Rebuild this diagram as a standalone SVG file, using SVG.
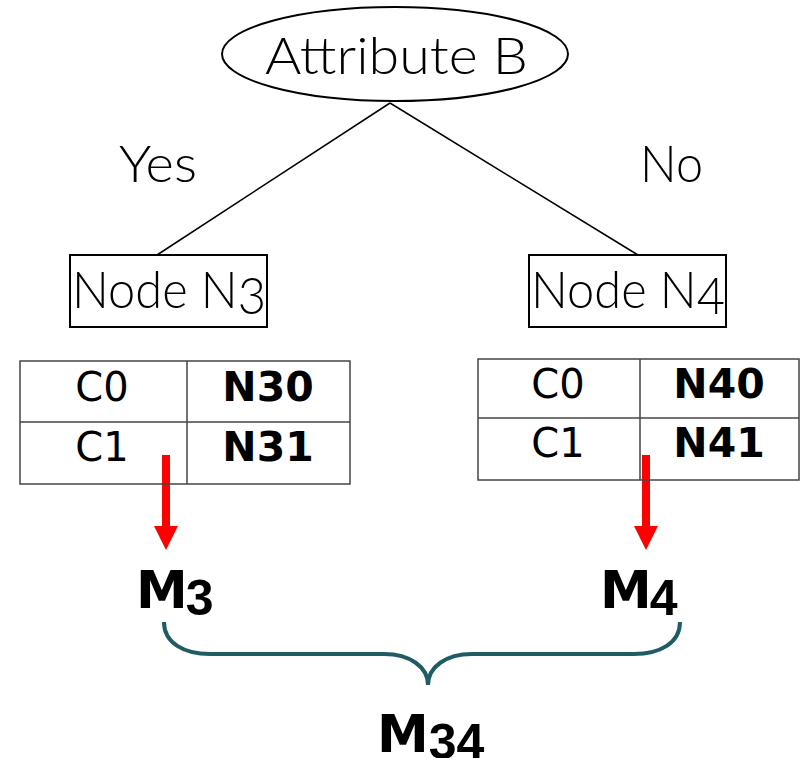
<svg xmlns="http://www.w3.org/2000/svg" width="800" height="758" viewBox="0 0 800 758">
<style>
.thin{font-family:Lato,"Open Sans","Liberation Sans",sans-serif;font-weight:300;font-size:52px;fill:#000}
.cell{font-family:"DejaVu Sans",Verdana,sans-serif;font-size:40px;fill:#000}
.cellb{font-family:"DejaVu Sans",Verdana,sans-serif;font-weight:bold;font-size:41px;fill:#000}
.big{font-family:"DejaVu Sans",Verdana,sans-serif;font-weight:bold;font-size:52px;fill:#000}
.dig{font-family:"Liberation Sans",Arial,sans-serif;font-size:50px}
.box{fill:#fff;stroke:#000;stroke-width:2}
.grid{fill:none;stroke:#444;stroke-width:1.5}
.edge{stroke:#000;stroke-width:1.5;fill:none}
.red{stroke:#ff0000;stroke-width:8;fill:none}
.brace{stroke:#1f5c63;stroke-width:4;fill:none}
</style>
<rect width="800" height="758" fill="#fff"/>
<g id="connectors">
<line class="edge" x1="390" y1="103" x2="157" y2="255"/>
<line class="edge" x1="390" y1="103" x2="638" y2="255"/>
<line class="red" x1="166" y1="455" x2="166" y2="528"/>
<polygon points="154,526 178,526 166,550" fill="#ff0000"/>
<line class="red" x1="646" y1="455" x2="646" y2="528"/>
<polygon points="634,526 658,526 646,550" fill="#ff0000"/>
<path class="brace" d="M164,622 C164,643 184,654 210,654 L384,654 C410,654 428,667 428,685 C428,667 446,654 472,654 L634,654 C660,654 680,643 680,622"/>
</g>
<g id="attributeB">
<ellipse cx="395" cy="54" rx="173" ry="47" fill="#fff" stroke="#000" stroke-width="2"/>
<text class="thin" x="265" y="74" textLength="263" lengthAdjust="spacingAndGlyphs">Attribute B</text>
</g>
<g id="labels">
<text class="thin" x="119" y="182" textLength="78" lengthAdjust="spacingAndGlyphs">Yes</text>
<text class="thin" x="640" y="182" textLength="63" lengthAdjust="spacingAndGlyphs">No</text>
</g>
<g id="nodeN3">
<rect class="box" x="70" y="255" width="197" height="72"/>
<text class="thin" x="72" y="308" textLength="194" lengthAdjust="spacingAndGlyphs">Node N<tspan dy="6">3</tspan></text>
</g>
<g id="nodeN4">
<rect class="box" x="529" y="255" width="197" height="72"/>
<text class="thin" x="531" y="308" textLength="194" lengthAdjust="spacingAndGlyphs">Node N<tspan dy="6">4</tspan></text>
</g>
<g id="tableN3">
<rect class="grid" x="20" y="361" width="330" height="123"/>
<line class="grid" x1="20" y1="422" x2="350" y2="422"/>
<line class="grid" x1="187" y1="361" x2="187" y2="484"/>
<text class="cell" x="102" y="401" text-anchor="middle">C0</text>
<text class="cell" x="102" y="461" text-anchor="middle">C1</text>
<text class="cellb" x="268" y="401" text-anchor="middle">N30</text>
<text class="cellb" x="268" y="461" text-anchor="middle">N31</text>
</g>
<g id="tableN4">
<rect class="grid" x="478" y="359" width="321" height="121"/>
<line class="grid" x1="478" y1="418" x2="799" y2="418"/>
<line class="grid" x1="640" y1="359" x2="640" y2="480"/>
<text class="cell" x="558" y="398" text-anchor="middle">C0</text>
<text class="cell" x="558" y="457" text-anchor="middle">C1</text>
<text class="cellb" x="719" y="398" text-anchor="middle">N40</text>
<text class="cellb" x="719" y="457" text-anchor="middle">N41</text>
</g>
<g id="M3">
<text class="big" x="136" y="608">M<tspan class="dig" dx="-2" dy="7">3</tspan></text>
</g>
<g id="M4">
<text class="big" x="600" y="608">M<tspan class="dig" dx="-2" dy="7">4</tspan></text>
</g>
<g id="M34">
<text class="big" x="377" y="752">M<tspan class="dig" dx="0" dy="7">34</tspan></text>
</g>
</svg>
